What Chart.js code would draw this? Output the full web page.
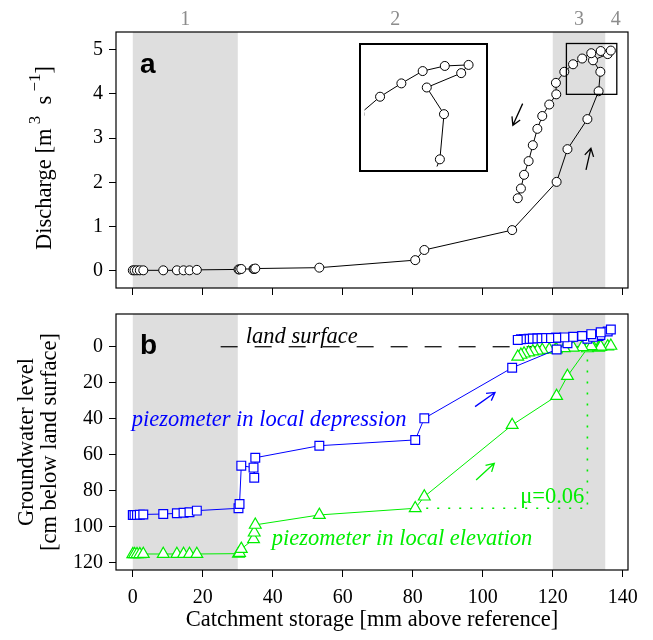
<!DOCTYPE html>
<html><head><meta charset="utf-8">
<script src="https://cdn.jsdelivr.net/npm/chart.js@4"></script>
<style>
html,body{margin:0;padding:0;background:#fff;}
#wrap{position:relative;width:653px;height:640px;overflow:hidden;}
canvas{position:absolute;}
#c3{background:#fff;}
</style></head><body>
<div id="wrap">
<canvas id="c1" width="653" height="300" style="left:0;top:0"></canvas>
<canvas id="c2" width="653" height="340" style="left:0;top:300px"></canvas>
<canvas id="c3" width="129" height="129" style="left:359px;top:43px"></canvas>
</div>
<script>
// ---- data ----
const storage = [0.0,0.5,1.2,2.0,3.0,8.7,12.6,14.5,16.2,18.3,30.2,30.5,31.0,34.5,34.7,35.0,53.3,80.7,83.3,108.4,121.1,124.2,129.9,133.1,133.6,131.5,135.7,136.6,133.7,131.0,128.4,125.8,123.3,120.9,121.0,119.0,117.0,115.6,114.3,113.1,111.8,110.9,110.0];
const discharge = [0.01,0.01,0.01,0.01,0.01,0.01,0.01,0.01,0.01,0.02,0.03,0.03,0.04,0.04,0.04,0.05,0.07,0.24,0.47,0.92,2.01,2.75,3.43,4.06,4.50,4.76,4.90,4.98,4.97,4.92,4.80,4.67,4.50,4.25,3.99,3.76,3.50,3.21,2.84,2.48,2.17,1.86,1.64];
const gwDepression = [93.5,93.5,93.5,93.4,93.2,93.0,92.6,92.3,92.0,91.1,89.8,87.4,66.1,67.2,72.8,61.7,55.0,51.8,39.8,11.7,1.5,-2.0,-4.5,-6.0,-6.5,-5.5,-8.5,-9.6,-8.0,-7.0,-6.0,-5.5,-5.2,-5.0,-5.0,-4.8,-4.8,-4.7,-4.6,-4.5,-4.3,-4.2,-3.8];
const gwElevation = [115.3,115.3,115.3,115.3,115.2,115.2,115.2,115.2,115.2,115.2,115.0,114.6,112.4,107.0,103.3,99.0,93.5,89.8,83.3,43.5,27.4,16.3,0.9,0.5,0.2,0.0,-0.2,-0.5,0.0,-0.3,0.2,0.5,0.8,1.3,1.5,1.5,1.8,2.2,2.6,3.2,3.8,4.5,5.6];
const xTicks = [0,20,40,60,80,100,120,140];
const qTicks = [0,1,2,3,4,5];
const gwTicks = [0,20,40,60,80,100,120];
const shadeRanges = [[0,30],[120,135]];
const regionLabels = ['1','2','3','4'];
const regionCenters = [15,75,127.5,138];
const zoomBox = [123.9,138.3,3.99,5.14];
const landSurfaceLevel = 0;
const landSurfaceStart = 25.1;
const muFrom = 17, muTo = 22;   // indices of the points joined by the dotted μ line
const qArrows = [[111.4,3.78,108.6,3.29],[129.5,2.28,130.9,2.77]];
const gwArrows = [[97.8,33.3,103.5,25.4,'#0000ff'],[98.1,74.1,103.3,64.8,'#00ee00']];
const gwTexts = [
  {text:'land surface', x:32.3, y:-2, color:'#000', italic:true},
  {text:'piezometer in local depression', x:-0.3, y:44, color:'#0000ff', italic:true},
  {text:'piezometer in local elevation', x:39.7, y:110.2, color:'#00ee00', italic:true},
  {text:'μ=0.06', x:110.7, y:86.9, color:'#00ee00', italic:false}
];
const xRange = [-4.8,141.5], qRange = [-0.39,5.40], gwRange = [-18.2,124.1];

const SERIF = '"Liberation Serif", "Times New Roman", serif';
const BLACK = '#000';
const GREEN = '#00ee00', BLUE = '#0000ff';
const LAB = 22.5;   // label font size

function arrow(ctx,x0,y0,x1,y1,color){
  const ang=Math.atan2(y1-y0,x1-x0), L=9, sp=Math.PI/6;
  ctx.save(); ctx.strokeStyle=color; ctx.lineWidth=1.3;
  ctx.beginPath(); ctx.moveTo(x0,y0); ctx.lineTo(x1,y1);
  ctx.moveTo(x1-L*Math.cos(ang-sp), y1-L*Math.sin(ang-sp));
  ctx.lineTo(x1,y1);
  ctx.lineTo(x1-L*Math.cos(ang+sp), y1-L*Math.sin(ang+sp));
  ctx.stroke(); ctx.restore();
}
function shade(chart){
  const {ctx, chartArea:a, scales:{x}} = chart;
  ctx.save(); ctx.fillStyle='#dedede';
  shadeRanges.forEach(([s,e])=>{
    const x0=x.getPixelForValue(s), x1=x.getPixelForValue(e);
    ctx.fillRect(x0,a.top,x1-x0,a.bottom-a.top);
  });
  ctx.restore();
}
function frame(chart,w){
  const {ctx, chartArea:a} = chart;
  ctx.save(); ctx.strokeStyle=BLACK; ctx.lineWidth=w||1.2;
  ctx.strokeRect(a.left,a.top,a.right-a.left,a.bottom-a.top); ctx.restore();
}
const setTicks = arr => s => { s.ticks = arr.map(v=>({value:v})); };
const noPad = s => { s.paddingTop=0; s.paddingBottom=0; s.paddingLeft=0; s.paddingRight=0; };
const tickGrid = {drawOnChartArea:false, drawTicks:true, tickLength:7, color:BLACK, tickColor:BLACK, lineWidth:1};

function xyData(ys){ return storage.map((s,i)=>({x:s,y:ys[i]})); }

// rotated title with superscripts: parts = [[text, isSuper], ...]
function drawRotatedRich(ctx, cx, cy, parts){
  ctx.save();
  ctx.translate(cx, cy); ctx.rotate(-Math.PI/2);
  ctx.fillStyle=BLACK; ctx.textBaseline='middle'; ctx.textAlign='left';
  const fontFor = sup => (sup? '17px ' : LAB+'px ') + SERIF;
  let total=0;
  parts.forEach(([t,sup])=>{ ctx.font=fontFor(sup); total+=ctx.measureText(t).width; });
  let xx=-total/2;
  parts.forEach(([t,sup])=>{
    ctx.font=fontFor(sup);
    ctx.fillText(t, xx, sup? -9 : 0);
    xx+=ctx.measureText(t).width;
  });
  ctx.restore();
}

// ---- panel a ----
new Chart(document.getElementById('c1'), {
  type:'scatter',
  data:{datasets:[{
    data:xyData(discharge), showLine:true, borderColor:BLACK, borderWidth:1,
    pointStyle:'circle', pointRadius:4.5, pointBackgroundColor:'#fff', pointBorderColor:BLACK, pointBorderWidth:1
  }]},
  options:{
    responsive:false, animation:false, events:[], devicePixelRatio:1,
    layout:{padding:{top:32,right:25,left:0,bottom:0}},
    plugins:{legend:{display:false}, tooltip:{enabled:false}},
    scales:{
      x:{type:'linear', min:xRange[0], max:xRange[1], afterBuildTicks:setTicks(xTicks), afterFit:s=>{s.height=12; noPad(s);},
         ticks:{display:false}, grid:tickGrid, border:{display:false}},
      y:{type:'linear', min:qRange[0], max:qRange[1], afterBuildTicks:setTicks(qTicks), afterFit:s=>{s.width=116; noPad(s);},
         ticks:{font:{family:SERIF,size:20}, color:BLACK, padding:6}, grid:tickGrid, border:{display:false}}
    }
  },
  plugins:[{
    id:'decorA',
    beforeDatasetsDraw(chart){ shade(chart); },
    afterDatasetsDraw(chart){
      const {ctx, chartArea:a, scales:{x,y}} = chart;
      // zoom box
      ctx.save(); ctx.strokeStyle=BLACK; ctx.lineWidth=1.3;
      const bx0=x.getPixelForValue(zoomBox[0]), bx1=x.getPixelForValue(zoomBox[1]);
      const by0=y.getPixelForValue(zoomBox[3]), by1=y.getPixelForValue(zoomBox[2]);
      ctx.strokeRect(bx0,by0,bx1-bx0,by1-by0); ctx.restore();
      qArrows.forEach(r=>arrow(ctx,x.getPixelForValue(r[0]),y.getPixelForValue(r[1]),x.getPixelForValue(r[2]),y.getPixelForValue(r[3]),BLACK));
      frame(chart);
      ctx.save();
      ctx.fillStyle='#8c8c8c'; ctx.font='20px '+SERIF; ctx.textAlign='center'; ctx.textBaseline='alphabetic';
      regionLabels.forEach((t,i)=>ctx.fillText(t, x.getPixelForValue(regionCenters[i]), a.top-7));
      ctx.fillStyle=BLACK; ctx.font='bold 28px "Liberation Sans", Arial, sans-serif'; ctx.textAlign='left';
      ctx.fillText('a', a.left+24, a.top+41);
      ctx.restore();
      drawRotatedRich(ctx, 45, (a.top+a.bottom)/2 - 2, [['Discharge [m',false],[' 3',true],['  s',false],[' −1',true],[']',false]]);
    }
  }]
});

// ---- panel b ----
new Chart(document.getElementById('c2'), {
  type:'scatter',
  data:{datasets:[
    {data:xyData(gwDepression), order:0, showLine:true, borderColor:BLUE, borderWidth:1,
     pointStyle:'rect', pointRadius:6.2, pointBackgroundColor:'#fff', pointBorderColor:BLUE, pointBorderWidth:1.2},
    {data:xyData(gwElevation), order:1, showLine:true, borderColor:GREEN, borderWidth:1,
     pointStyle:'triangle', pointRadius:6.8, pointBackgroundColor:'#fff', pointBorderColor:GREEN, pointBorderWidth:1.2},
    {data:[{x:storage[muFrom],y:gwElevation[muFrom]},{x:storage[muTo],y:gwElevation[muFrom]},{x:storage[muTo],y:gwElevation[muTo]}],
     order:2, showLine:true, borderColor:GREEN, borderWidth:1.6, borderDash:[2,9], pointRadius:0},
    {data:[{x:landSurfaceStart,y:landSurfaceLevel},{x:xRange[1],y:landSurfaceLevel}],
     order:3, showLine:true, borderColor:BLACK, borderWidth:1.2, borderDash:[17,17], pointRadius:0}
  ]},
  options:{
    responsive:false, animation:false, events:[], devicePixelRatio:1,
    layout:{padding:{top:14,right:25,left:0,bottom:0}},
    plugins:{legend:{display:false}, tooltip:{enabled:false}},
    scales:{
      x:{type:'linear', min:xRange[0], max:xRange[1], afterBuildTicks:setTicks(xTicks), afterFit:s=>{s.height=70; noPad(s);},
         ticks:{font:{family:SERIF,size:20}, color:BLACK, padding:9, maxRotation:0, autoSkip:false}, grid:tickGrid, border:{display:false},
         title:{display:true, text:'Catchment storage [mm above reference]', font:{family:SERIF,size:LAB,lineHeight:1.2}, color:BLACK, padding:{top:0,bottom:6.5}}},
      y:{type:'linear', reverse:true, min:gwRange[0], max:gwRange[1], afterBuildTicks:setTicks(gwTicks), afterFit:s=>{s.width=116; noPad(s);},
         ticks:{font:{family:SERIF,size:20}, color:BLACK, padding:6}, grid:tickGrid, border:{display:false},
         title:{display:true, text:['Groundwater level','[cm below land surface]'], font:{family:SERIF,size:LAB,lineHeight:1.02}, color:BLACK, padding:{top:15.5,bottom:0}}}
    }
  },
  plugins:[{
    id:'decorB',
    beforeDatasetsDraw(chart){ shade(chart); },
    afterDatasetsDraw(chart){
      const {ctx, chartArea:a, scales:{x,y}} = chart;
      gwArrows.forEach(r=>arrow(ctx,x.getPixelForValue(r[0]),y.getPixelForValue(r[1]),x.getPixelForValue(r[2]),y.getPixelForValue(r[3]),r[4]));
      frame(chart);
      ctx.save(); ctx.textBaseline='alphabetic'; ctx.textAlign='left';
      gwTexts.forEach(t=>{
        ctx.fillStyle=t.color; ctx.font=(t.italic?'italic ':'')+LAB+'px '+SERIF;
        ctx.fillText(t.text, x.getPixelForValue(t.x), y.getPixelForValue(t.y));
      });
      ctx.fillStyle=BLACK; ctx.font='bold 28px "Liberation Sans", Arial, sans-serif';
      ctx.fillText('b', a.left+24, a.top+40);
      ctx.restore();
    }
  }]
});

// ---- inset (magnified zoom box) ----
new Chart(document.getElementById('c3'), {
  type:'scatter',
  data:{datasets:[{
    data:xyData(discharge), showLine:true, borderColor:BLACK, borderWidth:1,
    pointStyle:'circle', pointRadius:4.5, pointBackgroundColor:'#fff', pointBorderColor:BLACK, pointBorderWidth:1
  }]},
  options:{
    responsive:false, animation:false, events:[], devicePixelRatio:1,
    layout:{padding:0},
    plugins:{legend:{display:false}, tooltip:{enabled:false}},
    scales:{
      x:{type:'linear', display:false, min:zoomBox[0], max:zoomBox[1]},
      y:{type:'linear', display:false, min:zoomBox[2], max:zoomBox[3]}
    }
  },
  plugins:[{
    id:'insetFrame',
    afterDraw(chart){
      const {ctx, width, height} = chart;
      ctx.save(); ctx.strokeStyle=BLACK; ctx.lineWidth=2;
      ctx.strokeRect(1,1,width-2,height-2); ctx.restore();
    }
  }]
});
</script>
</body></html>
